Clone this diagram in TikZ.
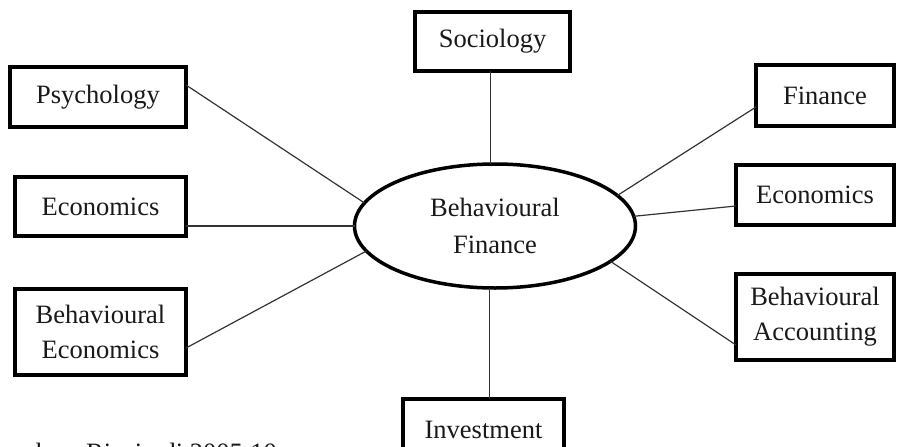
\documentclass[tikz,border=0pt]{standalone}
\usepackage{fontspec}
\setmainfont{Liberation Serif}
\usetikzlibrary{shapes.geometric}
\begin{document}
\begin{tikzpicture}[x=1pt,y=-1pt,
  txt/.style={font=\fontsize{26.5}{35}\selectfont, align=center, text=black!90},
  topic/.style={txt, draw=black, line width=4pt, rectangle, inner sep=0pt, outer sep=0pt},
  hub/.style={txt, draw=black, line width=3.5pt, ellipse, inner sep=0pt, outer sep=0pt,
    minimum width=281pt, minimum height=124pt, font=\fontsize{26.5}{37}\selectfont},
  link/.style={draw=black!80, line width=1.2pt}]
\useasboundingbox (0,0) rectangle (897,447);
\clip (0,0) rectangle (897,447);
\node[hub] (bf) at (495,226) {Behavioural\\Finance};
\node[topic, minimum width=155pt, minimum height=59pt] (soc) at (492.5,41.5) {Sociology};
\node[topic, minimum width=176pt, minimum height=60pt] (psy) at (98,97) {Psychology};
\node[topic, minimum width=171pt, minimum height=59pt] (ecoL) at (100.5,206.5) {Economics};
\node[topic, minimum width=171pt, minimum height=86pt] (beco) at (100.5,332) {Behavioural\\Economics};
\node[topic, minimum width=138pt, minimum height=61pt] (fin) at (825,95.5) {Finance};
\node[topic, minimum width=158pt, minimum height=60pt] (ecoR) at (815,195) {Economics};
\node[topic, minimum width=158pt, minimum height=86pt] (bacc) at (815,317) {Behavioural\\Accounting};
\node[topic, minimum width=161pt, minimum height=62pt] (inv) at (483.5,430) {Investment};
\node[txt, anchor=base east, inner sep=0pt] (src) at (277,461) {Sumber: Ricciardi 2005:10};
\draw[link] (psy.east |- 0,85) -- (bf.170.6);
\draw[link] (ecoL.east |- 0,226) -- (bf.180);
\draw[link] (beco.east |- 0,348) -- (bf.191.9);
\draw[link] (fin.west |- 0,107) -- (bf.14.7);
\draw[link] (ecoR.west |- 0,206) -- (bf.4.5);
\draw[link] (bacc.west |- 0,345) -- (bf.-17.3);
\draw[link] (bf.94.5) -- (bf.94.5 |- soc.south);
\draw[link] (bf.265.5) -- (bf.265.5 |- inv.north);
\end{tikzpicture}
\end{document}
